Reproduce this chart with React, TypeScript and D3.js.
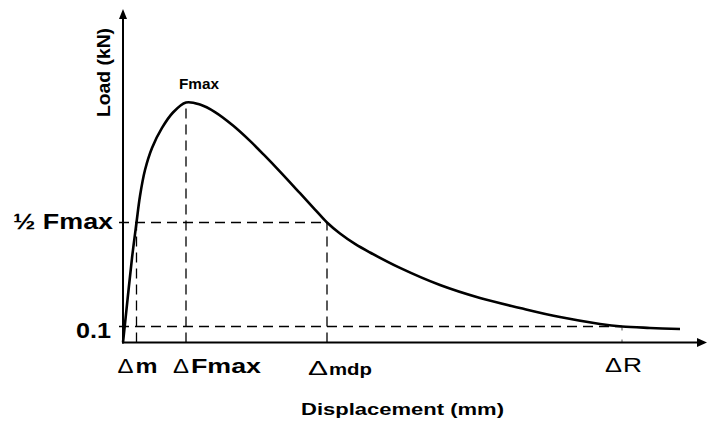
import React from "react";
import * as d3 from "d3";

// Load–displacement curve (mm, kN)
const displacement = [
  0, 0.45, 0.9, 1.35, 1.7, 2.2, 2.9, 3.9, 5.0, 6.3, 7.7, 9.2, 11.0, 12.7, 14.2,
  15.7, 17.7, 19.2, 20.4, 21.7, 23.2, 24.7, 27.7, 31.7, 35.7, 39.7, 43.7, 47.7,
  49.9, 52.7, 55.7,
];
const load = [
  0, 0.266, 0.528, 0.75, 0.916, 1.078, 1.216, 1.341, 1.4375, 1.5, 1.487, 1.44,
  1.356, 1.26, 1.166, 1.068, 0.933, 0.831, 0.75, 0.681, 0.616, 0.5625, 0.466,
  0.359, 0.278, 0.216, 0.159, 0.116, 0.1, 0.091, 0.084,
];

// Characteristic displacements (mm)
const deltaM = 1.35;
const deltaMdp = 20.4;
const deltaR = 49.9;
const residualLoad = 0.1;

// Axis tick labels
const yTickLabels = ["½ Fmax", "0.1"];
const xTickLabels = ["Δm", "ΔFmax", "Δmdp", "ΔR"];

const W = 712;
const H = 432;

export default function App() {
  const x = d3.scaleLinear().domain([0, 58.4]).range([123, 707]);
  const y = d3.scaleLinear().domain([0, 2.1]).range([342.5, 6.5]);

  const fmax = d3.max(load) as number;
  const fmaxDisp = displacement[load.indexOf(fmax)];
  const half = fmax / 2;

  const pts: [number, number][] = displacement.map((d, i) => [d, load[i]]);
  const line = d3
    .line<[number, number]>()
    .x((d) => x(d[0]))
    .y((d) => y(d[1]))
    .curve(d3.curveCatmullRom.alpha(0.5));

  const x0 = x(0);
  const y0 = y(0);
  const yTop = 9;
  const xEnd = 707;

  const font = "'Liberation Sans', Arial, sans-serif";
  const dash = "10,6";

  return (
    <svg
      width={W}
      height={H}
      style={{ position: "absolute", left: 0, top: 0, background: "#fff" }}
      fontFamily={font}
    >
      <rect width={W} height={H} fill="#fff" />

      {/* guide lines */}
      <g stroke="#000" strokeWidth={1.3} strokeDasharray={dash} fill="none">
        <line x1={x0 - 4} x2={x(deltaMdp)} y1={y(half)} y2={y(half)} />
        <line x1={x0 - 4} x2={x(deltaR)} y1={y(residualLoad)} y2={y(residualLoad)} />
        <line x1={x(deltaM)} x2={x(deltaM)} y1={y0} y2={y(half)} />
        <line x1={x(fmaxDisp)} x2={x(fmaxDisp)} y1={y0} y2={y(fmax)} />
        <line x1={x(deltaMdp)} x2={x(deltaMdp)} y1={y0} y2={y(half)} />
      </g>
      <line
        x1={x(deltaR)}
        x2={x(deltaR)}
        y1={y0}
        y2={y(residualLoad)}
        stroke="#555"
        strokeWidth={1}
        strokeDasharray="3,9"
      />

      {/* curve */}
      <path d={line(pts) ?? ""} fill="none" stroke="#000" strokeWidth={2.6} />

      {/* axes with arrow heads */}
      <g stroke="#000" strokeWidth={2}>
        <line x1={x0} x2={x0} y1={y0 + 1} y2={yTop + 6} />
        <line x1={x0 - 1} x2={xEnd - 6} y1={y0} y2={y0} />
      </g>
      <path d={`M${x0},${yTop} L${x0 - 4},${yTop + 10} L${x0 + 4},${yTop + 10} Z`} fill="#000" />
      <path d={`M${xEnd},${y0} L${xEnd - 10},${y0 - 4.5} L${xEnd - 10},${y0 + 4.5} Z`} fill="#000" />

      {/* peak label */}
      <text
        x={x(fmaxDisp) - 7}
        y={89}
        fontSize={15}
        fontWeight="bold"
        textLength={40}
        lengthAdjust="spacingAndGlyphs"
      >
        Fmax
      </text>

      {/* y tick labels */}
      <text
        x={13}
        y={y(half) + 6.5}
        fontSize={22}
        fontWeight="bold"
        textLength={100}
        lengthAdjust="spacingAndGlyphs"
      >
        {yTickLabels[0]}
      </text>
      <text
        x={76}
        y={y(residualLoad) + 11}
        fontSize={22}
        fontWeight="bold"
        textLength={35}
        lengthAdjust="spacingAndGlyphs"
      >
        {yTickLabels[1]}
      </text>

      {/* x tick labels */}
      <text y={373} fontSize={21}>
        <tspan x={x(deltaM) - 19} textLength={16} lengthAdjust="spacingAndGlyphs">
          {xTickLabels[0].slice(0, 1)}
        </tspan>
        <tspan x={x(deltaM) - 1} fontWeight="bold" textLength={22} lengthAdjust="spacingAndGlyphs">
          {xTickLabels[0].slice(1)}
        </tspan>
      </text>
      <text y={373} fontSize={21}>
        <tspan x={x(fmaxDisp) - 13} textLength={16} lengthAdjust="spacingAndGlyphs">
          {xTickLabels[1].slice(0, 1)}
        </tspan>
        <tspan x={x(fmaxDisp) + 5} fontWeight="bold" textLength={70} lengthAdjust="spacingAndGlyphs">
          {xTickLabels[1].slice(1)}
        </tspan>
      </text>
      <text y={375}>
        <tspan x={x(deltaMdp) - 19} fontSize={21} textLength={20} lengthAdjust="spacingAndGlyphs">
          {xTickLabels[2].slice(0, 1)}
        </tspan>
        <tspan x={x(deltaMdp) + 2} fontSize={17} fontWeight="bold" textLength={43} lengthAdjust="spacingAndGlyphs">
          {xTickLabels[2].slice(1)}
        </tspan>
      </text>
      <text y={372} fontSize={21}>
        <tspan x={x(deltaR) - 17} textLength={17} lengthAdjust="spacingAndGlyphs">
          {xTickLabels[3].slice(0, 1)}
        </tspan>
        <tspan x={x(deltaR) + 1} textLength={19} lengthAdjust="spacingAndGlyphs">
          {xTickLabels[3].slice(1)}
        </tspan>
      </text>

      {/* axis titles */}
      <text
        x={301}
        y={415}
        fontSize={17}
        fontWeight="bold"
        textLength={203}
        lengthAdjust="spacingAndGlyphs"
      >
        Displacement (mm)
      </text>
      <text
        transform={`translate(110,117) rotate(-90)`}
        fontSize={18}
        fontWeight="bold"
        textLength={89}
        lengthAdjust="spacingAndGlyphs"
      >
        Load  (kN)
      </text>
    </svg>
  );
}
